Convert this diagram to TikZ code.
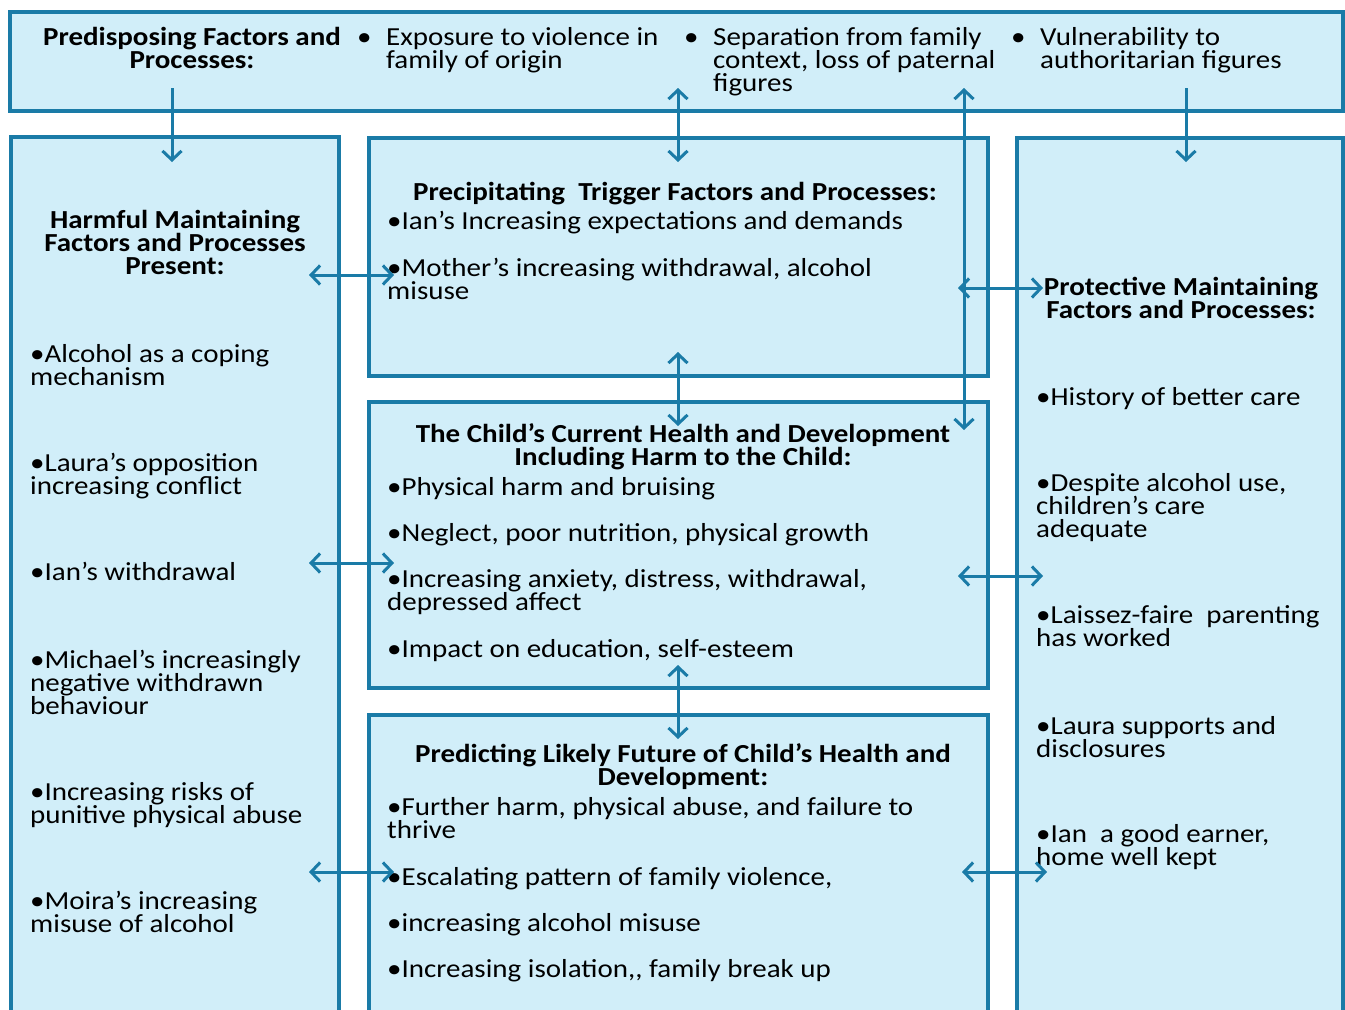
\documentclass[tikz,border=0pt]{standalone}
\usepackage{fontspec}
\setmainfont[FakeStretch=1.115]{Carlito}
\usetikzlibrary{arrows.meta}
\definecolor{boxfill}{HTML}{D1EEF9}
\definecolor{boxline}{HTML}{1A7BA7}

\begin{document}
\begin{tikzpicture}[x=1pt,y=-1pt,
  box/.style={draw=boxline,fill=boxfill,line width=3.5pt,anchor=north west,inner sep=0,outer sep=0},
  txt/.style={anchor=base west,inner sep=0,align=left,font=\fontsize{26}{23.3}\selectfont},
  head/.style={txt,anchor=base,align=center,font=\fontsize{26}{23.3}\selectfont\bfseries},
  link/.style={draw=boxline,line width=3pt,{Straight Barb[length=9pt,width=19pt]}-{Straight Barb[length=9pt,width=19pt]}},
  down/.style={draw=boxline,line width=3pt,-{Straight Barb[length=9pt,width=19pt]}}]
\useasboundingbox (0,0) rectangle (1345,1010);

% boxes
\node [box,minimum width=1333pt,minimum height=99pt] (pre) at (10,12) {};
\node [box,minimum width=328pt,minimum height=900pt] (harm) at (11,137) {};
\node [box,minimum width=619pt,minimum height=238pt] (trig) at (369,138) {};
\node [box,minimum width=619pt,minimum height=286pt] (curr) at (369,402) {};
\node [box,minimum width=619pt,minimum height=320pt] (pred) at (369,715) {};
\node [box,minimum width=326pt,minimum height=900pt] (prot) at (1017,138) {};

% predisposing (multi-line texts sit on their last baseline)
\node [head] (preT) at (192,68.3) {Predisposing Factors and\\Processes:};
\node [txt] (preB1) at (357,45) {•};
\node [txt] (pre1) at (386,68.3) {Exposure to violence in\\family of origin};
\node [txt] (preB2) at (684,45) {•};
\node [txt] (pre2) at (713,91.6) {Separation from family\\context, loss of paternal\\figures};
\node [txt] (preB3) at (1011,45) {•};
\node [txt] (pre3) at (1040,68.3) {Vulnerability to\\authoritarian figures};

% harmful maintaining
\node [head] (harmT) at (175,274.6) {Harmful Maintaining\\Factors and Processes\\Present:};
\node [txt] (harm1) at (30,385.3) {•Alcohol as a coping\\mechanism};
\node [txt] (harm2) at (30,494.3) {•Laura’s opposition\\increasing conflict};
\node [txt] (harm3) at (30,580) {•Ian’s withdrawal};
\node [txt] (harm4) at (30,714.6) {•Michael’s increasingly\\negative withdrawn\\behaviour};
\node [txt] (harm5) at (30,823.3) {•Increasing risks of\\punitive physical abuse};
\node [txt] (harm6) at (30,932.3) {•Moira’s increasing\\misuse of alcohol};

% precipitating
\node [head] (trigT) at (675,200) {Precipitating\ \ Trigger Factors and Processes:};
\node [txt] (trig1) at (387,229) {•Ian’s Increasing expectations and demands};
\node [txt] (trig2) at (387,299.3) {•Mother’s increasing withdrawal, alcohol\\misuse};

% current health
\node [head] (currT) at (683,465.3) {The Child’s Current Health and Development\\Including Harm to the Child:};
\node [txt] (curr1) at (387,495) {•Physical harm and bruising};
\node [txt] (curr2) at (387,541) {•Neglect, poor nutrition, physical growth};
\node [txt] (curr3) at (387,610.3) {•Increasing anxiety, distress, withdrawal,\\depressed affect};
\node [txt] (curr4) at (387,657) {•Impact on education, self-esteem};

% predicting
\node [head] (predT) at (683,785.3) {Predicting Likely Future of Child’s Health and\\Development:};
\node [txt] (pred1) at (387,838.3) {•Further harm, physical abuse, and failure to\\thrive};
\node [txt] (pred2) at (387,885) {•Escalating pattern of family violence,};
\node [txt] (pred3) at (387,931) {•increasing alcohol misuse};
\node [txt] (pred4) at (387,977) {•Increasing isolation,{},{} family break up};

% protective maintaining
\node [head] (protT) at (1181,318.3) {Protective Maintaining\\Factors and Processes:};
\node [txt] (prot1) at (1036,405) {•History of better care};
\node [txt] (prot2) at (1036,537.6) {•Despite alcohol use,\\children’s care\\adequate};
\node [txt] (prot3) at (1036,646.3) {•Laissez-faire\ \ parenting\\has worked};
\node [txt] (prot4) at (1036,757.3) {•Laura supports and\\disclosures};
\node [txt] (prot5) at (1036,865.3) {•Ian\ \ a good earner,\\home well kept};

% arrow ends
\coordinate (d1a) at (172,88);   \coordinate (d1b) at (172,162);
\coordinate (d2a) at (678,88);   \coordinate (d2b) at (678,162);
\coordinate (d3a) at (964,88);   \coordinate (d3b) at (964,430);
\coordinate (d4a) at (1186,88);  \coordinate (d4b) at (1186,162);
\coordinate (v1a) at (678,352);  \coordinate (v1b) at (678,426);
\coordinate (v2a) at (678,665);  \coordinate (v2b) at (678,739);
\coordinate (l1a) at (309,275);  \coordinate (l1b) at (394,275);
\coordinate (l2a) at (309,563);  \coordinate (l2b) at (394,563);
\coordinate (l3a) at (309,872);  \coordinate (l3b) at (394,872);
\coordinate (r1a) at (958,288);  \coordinate (r1b) at (1043,288);
\coordinate (r2a) at (958,576);  \coordinate (r2b) at (1043,576);
\coordinate (r3a) at (962,872);  \coordinate (r3b) at (1047,872);

\draw [down] (d1a) -- (d1b);
\draw [link] (d2a) -- (d2b);
\draw [link] (d3a) -- (d3b);
\draw [down] (d4a) -- (d4b);
\draw [link] (v1a) -- (v1b);
\draw [link] (v2a) -- (v2b);
\draw [link] (l1a) -- (l1b);
\draw [link] (l2a) -- (l2b);
\draw [link] (l3a) -- (l3b);
\draw [link] (r1a) -- (r1b);
\draw [link] (r2a) -- (r2b);
\draw [link] (r3a) -- (r3b);
\end{tikzpicture}
\end{document}
